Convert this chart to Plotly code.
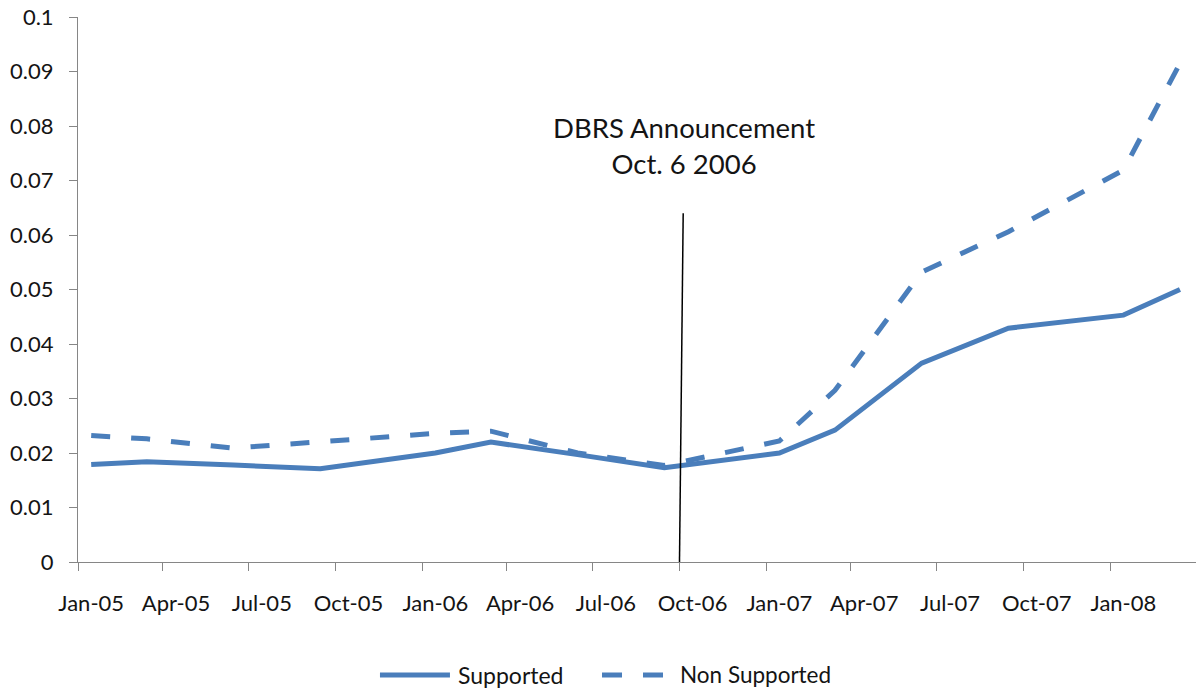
import pandas as pd
import plotly.graph_objects as go

# ---- data ----
months = ["2005-01", "2005-03", "2005-06", "2005-09", "2006-01", "2006-03", "2006-06",
          "2006-09", "2007-01", "2007-03", "2007-06", "2007-09", "2008-01", "2008-03"]
supported = [0.0179, 0.0184, 0.0178, 0.0171, 0.0200, 0.0220, 0.0197,
             0.0173, 0.0200, 0.0242, 0.0365, 0.0429, 0.0453, 0.0500]
non_supported = [0.0232, 0.0226, 0.0209, 0.0220, 0.0236, 0.0240, 0.0200,
                 0.0177, 0.0222, 0.0315, 0.0532, 0.0606, 0.0719, 0.0915]
tick_labels = ["Jan-05", "Apr-05", "Jul-05", "Oct-05", "Jan-06", "Apr-06", "Jul-06",
               "Oct-06", "Jan-07", "Apr-07", "Jul-07", "Oct-07", "Jan-08"]
series_names = ["Supported", "Non Supported"]
event_date = "2006-10-06"
event_text = ["DBRS Announcement", "Oct. 6 2006"]

# ---- styling ----
BLUE = "#4a7ebb"
AXIS = "#868686"
FONT = "Lato"
TEXT = "#141414"
half_month = pd.Timedelta(days=14)

x = pd.to_datetime(months) + half_month  # points centred within their month slot
tickvals = pd.to_datetime(tick_labels, format="%b-%y") + half_month

fig = go.Figure()
fig.add_trace(go.Scatter(x=x, y=supported, mode="lines", name=series_names[0],
                         line=dict(color=BLUE, width=5), showlegend=False))
fig.add_trace(go.Scatter(x=x, y=non_supported, mode="lines", name=series_names[1],
                         line=dict(color=BLUE, width=5, dash="19px,21px"), showlegend=False))

# announcement marker line
fig.add_shape(type="line", xref="x", yref="y",
              x0="2006-10-01", y0=-0.0011, x1="2006-10-05", y1=0.064,
              line=dict(color="black", width=1.5), layer="above")
fig.add_annotation(x=event_date, y=0.0765, xref="x", yref="y",
                   text="<br>".join(event_text), showarrow=False,
                   xanchor="center", yanchor="middle",
                   font=dict(family=FONT, size=27.5, color=TEXT))

# custom legend (long line samples like the original)
leg_y = -0.2073
fig.add_shape(type="line", xref="paper", yref="paper", x0=0.2701, x1=0.3327, y0=leg_y, y1=leg_y,
              line=dict(color=BLUE, width=5))
fig.add_shape(type="line", xref="paper", yref="paper", x0=0.4687, x1=0.5233, y0=leg_y, y1=leg_y,
              line=dict(color=BLUE, width=5, dash="20px,21px"))
fig.add_annotation(x=0.3381, y=leg_y, xref="paper", yref="paper", text=series_names[0],
                   showarrow=False, xanchor="left", yanchor="middle",
                   font=dict(family=FONT, size=23, color=TEXT))
fig.add_annotation(x=0.5367, y=leg_y, xref="paper", yref="paper", text=series_names[1],
                   showarrow=False, xanchor="left", yanchor="middle",
                   font=dict(family=FONT, size=22.5, color=TEXT))

fig.update_layout(
    width=1196, height=691,
    margin=dict(l=78, r=0, t=17, b=129),
    paper_bgcolor="white", plot_bgcolor="white",
    font=dict(family=FONT, size=22, color=TEXT),
    showlegend=False,
)
fig.update_xaxes(
    type="date", range=["2005-01-01", "2008-04-01"],
    tickvals=tickvals, ticktext=tick_labels, ticks="",
    showline=True, linecolor=AXIS, linewidth=1, showgrid=False, zeroline=False,
    ticklabelstandoff=22,
    minor=dict(ticks="outside", ticklen=8, tickcolor=AXIS, tickwidth=1,
               dtick="M3", tick0="2005-01-01", showgrid=False),
)
fig.update_yaxes(
    range=[0, 0.1], dtick=0.01, tick0=0,
    ticks="outside", ticklen=8, tickcolor=AXIS, tickwidth=1,
    showline=True, linecolor=AXIS, linewidth=1, showgrid=False, zeroline=False,
    ticklabelstandoff=11,
)

fig.write_html("out.html", config={"displayModeBar": False},
               post_script="document.body.style.margin='0';")
